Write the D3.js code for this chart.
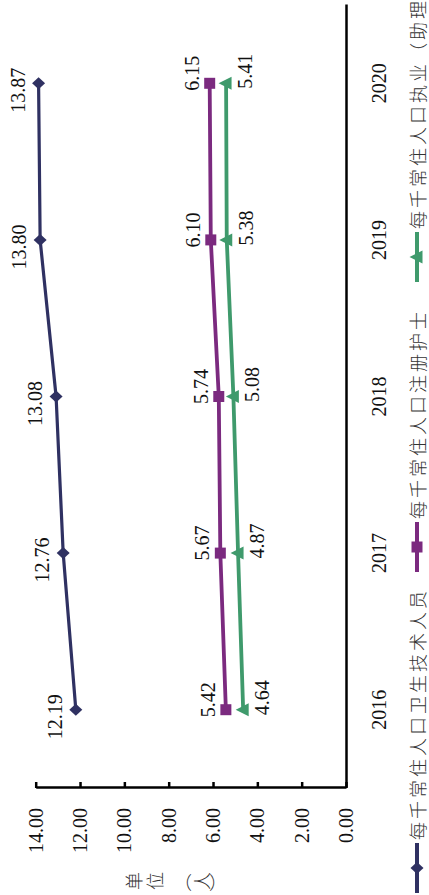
<!DOCTYPE html>
<html><head><meta charset="utf-8">
<script src="https://cdn.jsdelivr.net/npm/d3@7"></script>
<style>
html,body{margin:0;padding:0;background:#fff;}
svg{display:block;}
</style></head>
<body>
<script>
// ---- data ----
const years = ["2016", "2017", "2018", "2019", "2020"];
const seriesNames = ["每千常住人口卫生技术人员", "每千常住人口注册护士", "每千常住人口执业（助理）医师"];
const techStaff = [12.19, 12.76, 13.08, 13.80, 13.87];
const nurses = [5.42, 5.67, 5.74, 6.10, 6.15];
const doctors = [4.64, 4.87, 5.08, 5.38, 5.41];
const yTicks = [0, 2, 4, 6, 8, 10, 12, 14];
const unitChars = ["单", "位", "（", "人", "）"];

// ---- layout (chart drawn in its natural orientation, then turned) ----
const PW = 429, PH = 895;
const serif = "'Liberation Serif','DejaVu Serif',serif";
const cjk = "'Noto Sans CJK SC','Noto Sans',sans-serif";
const colors = ["#2f3162", "#7b2a7f", "#3f9a6c"];

const svg = d3.select("body").append("svg").attr("width", PW).attr("height", PH);
svg.append("rect").attr("width", PW).attr("height", PH).attr("fill", "#fff");
const g = svg.append("g").attr("transform", `translate(0,${PH}) rotate(-90)`);

const x = d3.scaleBand().domain(years).range([107, 890]);
const y = d3.scaleLinear().domain([0, 14]).range([346, 35.7]);
const cx = d => x(d) + x.bandwidth() / 2;

// value axis
const ya = g.append("g").attr("transform", "translate(107,0)")
  .call(d3.axisLeft(y).tickValues(yTicks).tickFormat(d3.format(".2f"))
    .tickSizeInner(-6).tickSizeOuter(0).tickPadding(20));
ya.selectAll("path,line").attr("stroke", "#000").attr("stroke-width", 2.5);
ya.selectAll("text").attr("font-family", serif).attr("font-size", 20).attr("fill", "#111");

// category axis
const xa = g.append("g").attr("transform", "translate(0,346)")
  .call(d3.axisBottom(x).tickSize(0).tickPadding(26));
xa.selectAll("path").attr("stroke", "#000").attr("stroke-width", 2.5);
xa.selectAll("text").attr("font-family", serif).attr("font-size", 20).attr("fill", "#111");

// unit label (vertical)
const unitY = [133, 154, 183, 201, 218];
unitChars.forEach((c, i) => {
  const t = g.append("text").attr("x", 14).attr("y", unitY[i])
    .attr("text-anchor", "middle").attr("dominant-baseline", "central")
    .attr("font-family", cjk).attr("font-size", 18).attr("font-weight", 300)
    .attr("fill", "#333").text(c);
  if (c === "（" || c === "）") t.attr("transform", `rotate(90,14,${unitY[i]})`);
});

// markers
function markerPath(kind) {
  if (kind === 0) return "M0,-6.5L6,0L0,6.5L-6,0Z";
  if (kind === 1) return "M-5.5,-5.5H5.5V5.5H-5.5Z";
  return "M0,-7.5L6.5,5.5L-6.5,5.5Z";
}

const series = [techStaff, nurses, doctors];
const labelDx = [-7, 10, 12];
const labelDy = [-21, -18, 19];
const line = d3.line().x((d, i) => cx(years[i])).y(d => y(d));

series.forEach((vals, s) => {
  g.append("path").datum(vals).attr("d", line)
    .attr("fill", "none").attr("stroke", colors[s]).attr("stroke-width", s === 0 ? 3.2 : 3.8)
    .attr("stroke-linejoin", "round");
  g.selectAll(null).data(vals).enter().append("path")
    .attr("d", markerPath(s))
    .attr("transform", (d, i) => `translate(${cx(years[i])},${y(d)})`)
    .attr("fill", colors[s]);
  g.selectAll(null).data(vals).enter().append("text")
    .attr("x", (d, i) => cx(years[i]) + labelDx[s])
    .attr("y", d => y(d) + labelDy[s])
    .attr("text-anchor", "middle").attr("dominant-baseline", "central")
    .attr("font-family", serif).attr("font-size", 20).attr("fill", "#111")
    .text(d => d3.format(".2f")(d));
});

// legend
const legendX = [2, 323, 613];
const legendY = 417;
seriesNames.forEach((name, s) => {
  const lx = legendX[s];
  g.append("line").attr("x1", lx).attr("x2", lx + 50).attr("y1", legendY).attr("y2", legendY)
    .attr("stroke", colors[s]).attr("stroke-width", 4);
  g.append("path").attr("d", markerPath(s))
    .attr("transform", `translate(${lx + 25},${legendY})`).attr("fill", colors[s]);
  g.append("text").attr("x", lx + 53).attr("y", legendY)
    .attr("dominant-baseline", "central").attr("font-family", cjk)
    .attr("font-size", 18).attr("font-weight", 300).attr("letter-spacing", 3)
    .attr("fill", "#333").text(name);
});
</script>
</body></html>
